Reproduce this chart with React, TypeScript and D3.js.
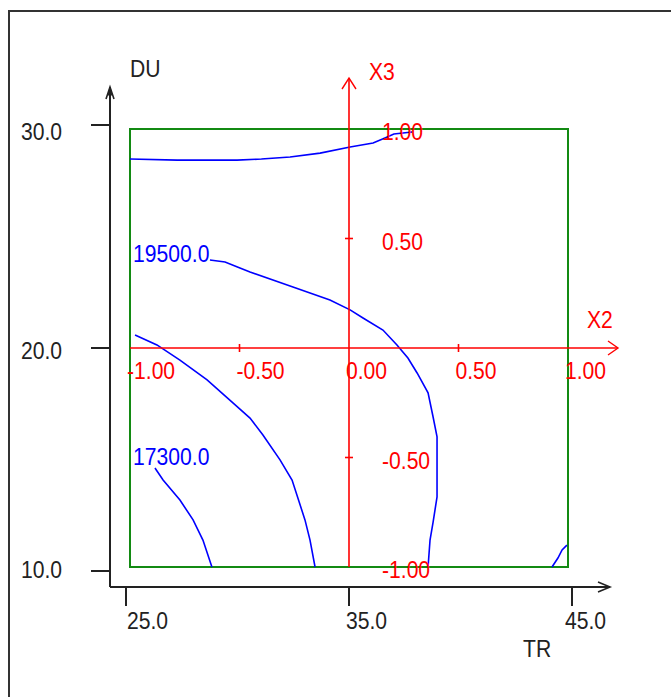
import React from "react";
import * as d3 from "d3";

// ---- data ----
const trTicks = [25, 35, 45];
const duTicks = [10, 20, 30];
const codedTicks = [-1, -0.5, 0, 0.5, 1];
const codedTickLabels = ["-1.00", "-0.50", "0.00", "0.50", "1.00"];
const codedMinorTicks = [-0.5, 0.5];

// contour lines in coded coordinates [X2, X3]
const contourTop: [number, number][] = [
  [-1.0, 0.863], [-0.785, 0.858], [-0.511, 0.858], [-0.4, 0.863], [-0.269, 0.872],
  [-0.132, 0.89], [0.005, 0.918], [0.11, 0.936], [0.164, 0.959], [0.205, 0.977], [0.288, 0.986],
];
const contour19500: [number, number][] = [
  [-0.635, 0.402], [-0.566, 0.393], [-0.498, 0.365], [-0.452, 0.347], [-0.256, 0.279],
  [-0.087, 0.219], [0.005, 0.174], [0.064, 0.137], [0.155, 0.082], [0.219, 0.014],
  [0.269, -0.046], [0.311, -0.114], [0.361, -0.205], [0.384, -0.315], [0.402, -0.406],
  [0.402, -0.68], [0.384, -0.795], [0.37, -0.877], [0.361, -1.0],
];
const contourMid: [number, number][] = [
  [-0.977, 0.059], [-0.877, 0.014], [-0.772, -0.055], [-0.648, -0.146], [-0.53, -0.251],
  [-0.452, -0.32], [-0.393, -0.397], [-0.315, -0.511], [-0.26, -0.603], [-0.201, -0.785],
  [-0.178, -0.877], [-0.155, -1.0],
];
const contour17300: [number, number][] = [
  [-0.886, -0.548], [-0.849, -0.603], [-0.772, -0.694], [-0.712, -0.785], [-0.667, -0.877],
  [-0.626, -1.0],
];
const contourCorner: [number, number][] = [
  [0.927, -1.0], [0.954, -0.959], [0.973, -0.922], [0.995, -0.9],
];
const contourLabels = ["19500.0", "17300.0"];
const contourLabelPos: [number, number][] = [[-0.986, 0.393], [-0.986, -0.534]];

const contours = [contourTop, contour19500, contourMid, contour17300, contourCorner];

// ---- scales ----
const xC = d3.scaleLinear().domain([-1, 1]).range([130, 568]);
const yC = d3.scaleLinear().domain([-1, 1]).range([567, 129]);
const xTR = d3.scaleLinear().domain([25, 45]).range([126, 572]);
const yDU = d3.scaleLinear().domain([10, 30]).range([571, 125]);
const trToCoded = (v: number) => (v - 35) / 10;
const duToCoded = (v: number) => (v - 20) / 10;

const FONT = "'Liberation Sans', Arial, sans-serif";
const SX = 0.88;
const DARK = "#222";
const RED = "#ff0000";
const BLUE = "#0000ff";
const GREEN = "#138a13";

function T({ x, y, children, fill = DARK, anchor = "start" }: any) {
  return (
    <text
      transform={`translate(${x},${y}) scale(${SX},1)`}
      fontFamily={FONT}
      fontSize={24}
      fill={fill}
      textAnchor={anchor}
    >
      {children}
    </text>
  );
}

export default function App() {
  const line = d3
    .line<[number, number]>()
    .x((d) => xC(d[0]))
    .y((d) => yC(d[1]));

  const axX = 110;
  const axY = 587;

  return (
    <svg
      width={671}
      height={697}
      style={{ position: "absolute", left: 0, top: 0, background: "#fff" }}
    >
      <rect x={0} y={0} width={671} height={697} fill="#fff" />
      {/* outer frame */}
      <path d="M9,700 L9,11 L680,11" fill="none" stroke="#333" strokeWidth={2} />

      {/* black axes */}
      <line x1={axX} y1={88} x2={axX} y2={axY} stroke={DARK} strokeWidth={2} />
      <line x1={axX} y1={axY} x2={610} y2={axY} stroke={DARK} strokeWidth={2} />
      <path d={`M${axX - 4},99 L${axX},87 L${axX + 4},99`} fill="none" stroke={DARK} strokeWidth={1.6} />
      <path d={`M${axX},87 L${axX - 2},95 L${axX + 2},95 Z`} fill={DARK} stroke={DARK} />
      <path d="M598,582 L610,587 L598,592" fill="none" stroke={DARK} strokeWidth={1.6} />

      {duTicks.map((v) => (
        <g key={"du" + v}>
          <line x1={91} x2={axX} y1={yDU(v)} y2={yDU(v)} stroke={DARK} strokeWidth={2} />
          <T x={62} y={yC(duToCoded(v)) + 11} anchor="end">
            {v.toFixed(1)}
          </T>
        </g>
      ))}
      {trTicks.map((v) => (
        <g key={"tr" + v}>
          <line x1={xTR(v)} x2={xTR(v)} y1={axY} y2={606} stroke={DARK} strokeWidth={2} />
          <T x={xC(trToCoded(v)) - 3} y={629}>
            {v.toFixed(1)}
          </T>
        </g>
      ))}
      <T x={130} y={77}>DU</T>
      <T x={523} y={657}>TR</T>

      {/* green design region */}
      <rect
        x={xC(-1)}
        y={yC(1)}
        width={xC(1) - xC(-1)}
        height={yC(-1) - yC(1)}
        fill="none"
        stroke={GREEN}
        strokeWidth={2}
      />

      {/* contours */}
      {contours.map((c, i) => (
        <path key={"c" + i} d={line(c) || ""} fill="none" stroke={BLUE} strokeWidth={1.6} />
      ))}
      {contourLabels.map((l, i) => (
        <T key={"cl" + i} x={xC(contourLabelPos[i][0])} y={yC(contourLabelPos[i][1])} fill={BLUE}>
          {l}
        </T>
      ))}

      {/* red coded axes */}
      <line x1={xC(-1)} x2={618} y1={yC(0)} y2={yC(0)} stroke={RED} strokeWidth={1.6} />
      <line x1={xC(0)} x2={xC(0)} y1={yC(-1)} y2={78} stroke={RED} strokeWidth={1.6} />
      <path d={`M608,${yC(0) - 7} L618,${yC(0)} L608,${yC(0) + 7}`} fill="none" stroke={RED} strokeWidth={1.4} />
      <path d={`M${xC(0) - 7},89 L${xC(0)},78 L${xC(0) + 7},89`} fill="none" stroke={RED} strokeWidth={1.4} />
      {codedMinorTicks.map((v) => (
        <g key={"rt" + v}>
          <line x1={xC(v)} x2={xC(v)} y1={yC(0) - 4} y2={yC(0) + 4} stroke={RED} strokeWidth={1.6} />
          <line x1={xC(0) - 4} x2={xC(0) + 4} y1={yC(v)} y2={yC(v)} stroke={RED} strokeWidth={1.6} />
        </g>
      ))}
      {codedTicks.map((v, i) => (
        <T key={"rx" + v} x={xC(v) - 3} y={yC(0) + 30.5} fill={RED}>
          {codedTickLabels[i]}
        </T>
      ))}
      {codedTicks.map((v, i) =>
        v === 0 ? null : (
          <T key={"ry" + v} x={xC(0) + 33} y={yC(v) + 11} fill={RED}>
            {codedTickLabels[i]}
          </T>
        )
      )}
      <T x={587} y={328} fill={RED}>X2</T>
      <T x={369} y={80} fill={RED}>X3</T>
    </svg>
  );
}
